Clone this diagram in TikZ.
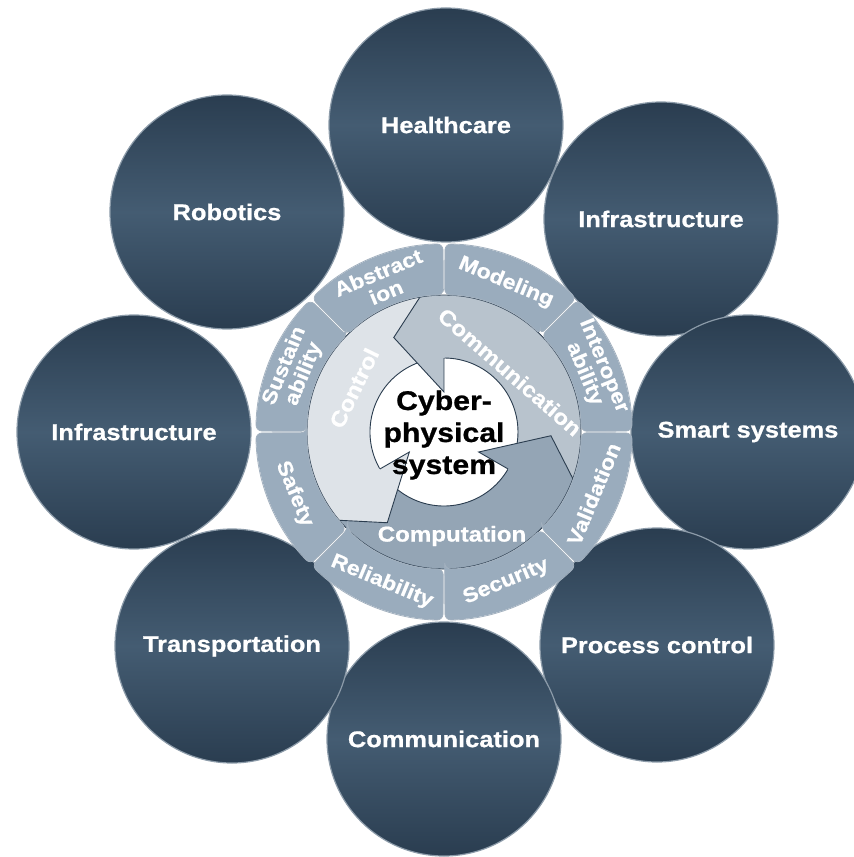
\documentclass[tikz,border=0pt]{standalone}
\usepackage{fontspec}
\setmainfont{Liberation Sans}[FakeStretch=1.12,BoldFeatures={FakeBold=0.8}]

\definecolor{bubbletop}{HTML}{2A3D50}
\definecolor{bubblemid}{HTML}{445C72}
\definecolor{bubbleedge}{HTML}{8C9BA9}
\definecolor{ringlight}{HTML}{9AACBD}
\definecolor{ringmid}{HTML}{8B9FB2}
\definecolor{ringdark}{HTML}{73889D}
\definecolor{segedge}{HTML}{A3B1BF}
\definecolor{ctrlfill}{HTML}{DEE3E8}
\definecolor{commfill}{HTML}{B8C3CD}
\definecolor{compfill}{HTML}{94A5B5}
\definecolor{outline}{HTML}{2B3D4F}

\pgfdeclareradialshading{ringshade}{\pgfpoint{0bp}{0bp}}{color(0bp)=(ringlight); color(36.4bp)=(ringlight); color(43bp)=(ringmid); color(50bp)=(ringdark); color(80bp)=(ringdark)}

\begin{document}
\begin{tikzpicture}[x=1pt,y=1pt,
  bubble/.style={circle,minimum size=234pt,inner sep=0pt,
    top color=bubbletop,bottom color=bubbletop,middle color=bubblemid,
    draw=bubbleedge,line width=1.2pt,text=white,
    font=\fontsize{22.7}{26}\selectfont\bfseries},
  seglabel/.style={text=white,align=center,inner sep=0pt,
    font=\fontsize{20.5}{21}\selectfont\bfseries},
  arrowlabel/.style={text=white,inner sep=0pt,
    font=\fontsize{21.5}{24}\selectfont\bfseries},
  seam/.style={draw=outline,line width=0.9pt}]

\useasboundingbox (-444,-425) rectangle (410,432);

% application areas
\node[bubble] (health)  at (2,307)     {Healthcare};
\node[bubble] (infraR)  at (217,213)   {Infrastructure};
\node[bubble] (smart)   at (304,0)     {Smart systems};
\node[bubble] (process) at (213,-213)  {Process control};
\node[bubble] (commC)   at (0,-307)    {Communication};
\node[bubble] (transp)  at (-212,-214) {Transportation};
\node[bubble] (infraL)  at (-310,0)    {Infrastructure};
\node[bubble] (robot)   at (-217,220)  {Robotics};

% cycle of three arrows
\foreach \b/\col in {90/commfill,210/ctrlfill,330/compfill}{
  \fill[\col] (\b:137) arc[start angle=\b,end angle=\b-120,radius=137]
    -- (\b-120:74) arc[start angle=\b-120,end angle=\b,radius=74] -- cycle;
  \draw[seam] (\b:74) arc[start angle=\b,end angle=\b-120,radius=74];
}
\begin{scope}
  \clip (0,0) circle (137);
  \foreach \b/\col in {90/commfill,210/ctrlfill,330/compfill}{
    \fill[\col] (\b:40) -- (\b+28:107) -- (\b:172) -- (\b-2:140)
      -- (\b-2:76) -- (\b:74) -- cycle;
    \draw[seam] (\b:74) -- (\b:40) -- (\b+28:107) -- (\b:172);
  }
\end{scope}
\draw[seam] (0,0) circle (137);

\node[arrowlabel,rotate=64]  (ctrl) at (154:100)    {Control};
\node[arrowlabel,rotate=-41] (comm) at (66,60)      {Communication};
\node[arrowlabel]            (comp) at (8,-104)     {Computation};

% ring of properties
\foreach \c/\r/\nm/\txt in {112.5/22.5/abst/{Abstract\\ion},
    67.5/-22.5/model/Modeling, 22.5/-67.5/inter/{Interoper\\ability},
    -22.5/67.5/valid/Validation, -67.5/22.5/secur/Security,
    -112.5/-22.5/relia/Reliability, -157.5/-67.5/safe/Safety,
    157.5/67.5/sust/{Sustain\\ability}}{
  \path[draw=segedge,line width=0.8pt,rounded corners=6pt,
      path picture={\shade[shading=ringshade] (0,0) circle (188);}]
    (\c-22.2:137) -- (\c-22.2:188)
    arc[start angle=\c-22.2,end angle=\c+22.2,radius=188]
    -- (\c+22.2:137)
    arc[start angle=\c+22.2,end angle=\c-22.2,radius=137] -- cycle;
  \node[seglabel,rotate=\r] (\nm) at (\c:162) {\txt};
}

\node[align=center,font=\fontsize{27}{32}\selectfont\bfseries] (cps) at (0,-3)
  {Cyber-\\physical\\system};

\end{tikzpicture}
\end{document}
